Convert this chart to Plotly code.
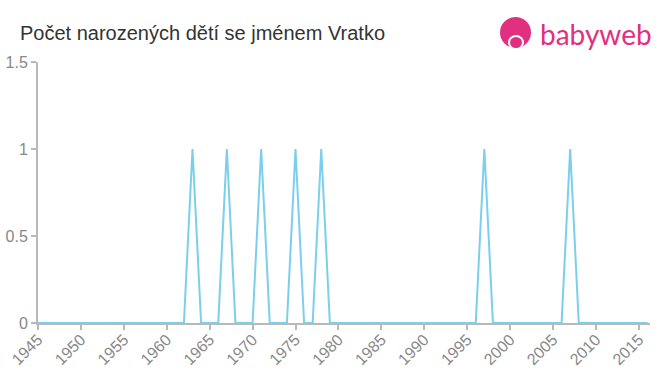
import plotly.graph_objects as go

years = list(range(1945, 2017))
spike_years = [1963, 1967, 1971, 1975, 1978, 1997, 2007]
spike_counts = [1, 1, 1, 1, 1, 1, 1]
counts = [0] * len(years)
for y_, c in zip(spike_years, spike_counts):
    counts[years.index(y_)] = c

x_ticks = list(range(1945, 2020, 5))
x_tick_labels = [str(t) for t in x_ticks]
y_ticks = [0, 0.5, 1, 1.5]
y_tick_labels = ["0", "0.5", "1", "1.5"]

fig = go.Figure()
fig.add_trace(go.Scatter(
    x=years, y=counts, mode="lines",
    line=dict(color="#7ccfec", width=2),
    hoverinfo="x+y", showlegend=False,
))

axis_color = "#b9b9b9"
fig.update_layout(
    width=660, height=375,
    margin=dict(l=38, r=10, t=62, b=52),
    paper_bgcolor="white", plot_bgcolor="white",
    font=dict(family="Liberation Sans, Arial, sans-serif", color="#888888"),
    title=dict(text="Počet narozených dětí se jménem Vratko",
               x=20 / 660, xanchor="left", y=1 - 33 / 375, yanchor="middle",
               font=dict(size=20, color="#333333")),
    xaxis=dict(range=[1945, 2016.3], tickmode="array", tickvals=x_ticks,
               ticktext=x_tick_labels, tickangle=-45,
               showgrid=False, zeroline=False, showline=True, automargin=False,
               linecolor=axis_color, linewidth=2, ticks="outside",
               tickcolor=axis_color, ticklen=5, tickwidth=2,
               ticklabelstandoff=-6,
               tickfont=dict(size=16, color="#888888")),
    yaxis=dict(range=[0, 1.5], tickmode="array", tickvals=y_ticks,
               ticktext=y_tick_labels, showgrid=False, zeroline=False,
               showline=True, linecolor=axis_color, linewidth=2, automargin=False,
               ticks="outside", tickcolor=axis_color, ticklen=5, tickwidth=2,
               tickfont=dict(size=16, color="#888888")),
)

pink = "#e0307f"
fig.add_shape(type="circle", xref="paper", yref="paper",
              x0=(500 - 38) / 612, x1=(531 - 38) / 612,
              y0=(323 - 48) / 261, y1=(323 - 17) / 261,
              fillcolor=pink, line=dict(width=0), layer="above")
fig.add_shape(type="circle", xref="paper", yref="paper",
              x0=(508 - 38) / 612, x1=(524 - 38) / 612,
              y0=(323 - 50) / 261, y1=(323 - 35) / 261,
              fillcolor="white", line=dict(width=0), layer="above")
fig.add_shape(type="circle", xref="paper", yref="paper",
              x0=(510 - 38) / 612, x1=(522 - 38) / 612,
              y0=(323 - 48) / 261, y1=(323 - 37) / 261,
              fillcolor=pink, line=dict(width=0), layer="above")
fig.add_annotation(text="babyweb", xref="paper", yref="paper",
                   x=(538 - 38) / 612, y=(323 - 34) / 261,
                   xanchor="left", yanchor="middle", showarrow=False,
                   font=dict(size=28, color=pink,
                             family="Lato, Liberation Sans, sans-serif"))

fig.write_html("out.html")
